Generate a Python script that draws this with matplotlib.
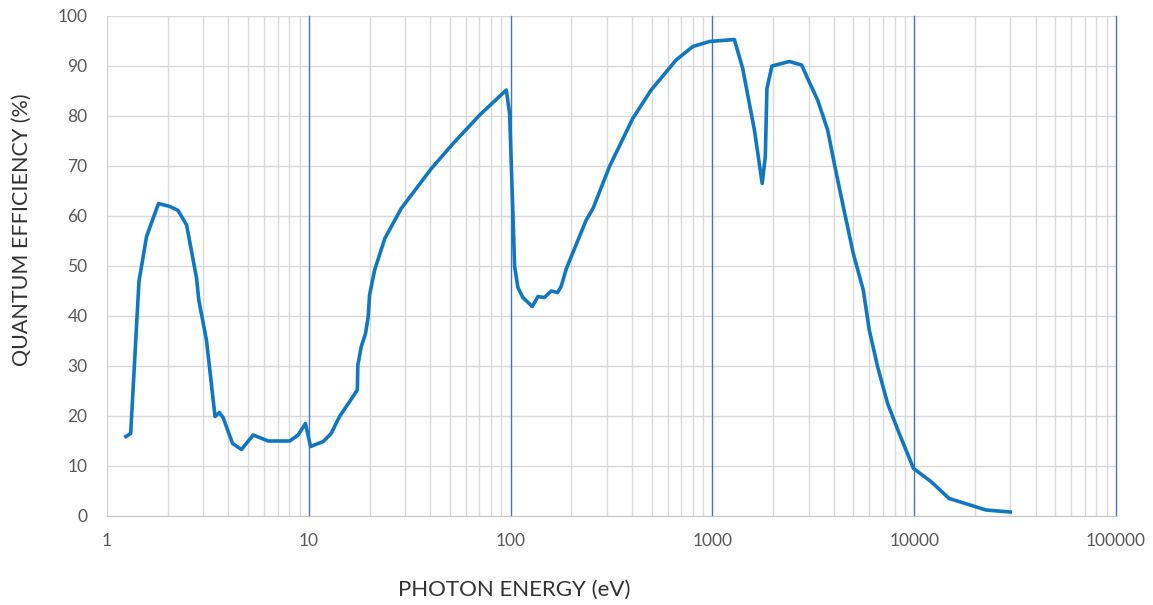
import matplotlib
matplotlib.use('Agg')
import matplotlib.pyplot as plt
from matplotlib.ticker import FixedLocator, NullFormatter, LogLocator

# photon energy (eV) and quantum efficiency (%)
energia = [1.24, 1.31, 1.44, 1.57, 1.80, 2.05, 2.25, 2.48, 2.78, 2.85, 3.11, 3.43, 3.60,
           3.76, 4.19, 4.64, 5.30, 6.29, 8.05, 8.85, 9.63, 10.2, 11.8, 12.9, 14.2, 15.7,
           17.4, 17.5, 18.2, 19.1, 19.7, 20.0, 21.2, 23.8, 28.7, 40.5, 51.9, 70.3, 95.2,
           98.9, 104.7, 108.7, 115, 128, 136.6, 147, 159, 171, 178, 189, 237, 256, 309,
           403, 497, 661, 800, 967, 1285, 1413, 1615, 1765, 1829, 1863, 1972, 2405, 2768,
           2965, 3322, 3725, 4018, 4418, 4990, 5593, 5988, 6583, 7382, 8430, 9927, 12100,
           14900, 22700, 29900]
qe = [15.9, 16.5, 46.9, 55.9, 62.5, 61.9, 61.1, 58.2, 47.5, 43.2, 35.2, 19.9, 20.7,
      19.7, 14.5, 13.3, 16.2, 15.0, 15.0, 16.2, 18.5, 13.9, 14.9, 16.5, 19.9, 22.5,
      25.2, 30.2, 33.9, 36.5, 39.9, 44.2, 49.2, 55.5, 61.5, 69.5, 74.5, 80.2, 85.2,
      80.5, 49.9, 45.7, 43.7, 41.9, 43.9, 43.7, 45.0, 44.7, 45.9, 49.5, 59.2, 61.5, 69.9,
      79.5, 85.2, 91.2, 93.9, 94.9, 95.3, 89.5, 77.2, 66.5, 71.9, 85.5, 90.0, 90.9, 90.2,
      87.5, 83.2, 77.2, 70.5, 62.5, 52.5, 45.2, 37.2, 29.9, 22.5, 16.5, 9.5, 6.9,
      3.5, 1.2, 0.8]

ticks_x = [1, 10, 100, 1000, 10000, 100000]
labels_x = ['1', '10', '100', '1000', '10000', '100000']
ticks_y = list(range(0, 101, 10))

plt.rcParams['font.family'] = ['Lato', 'DejaVu Sans']

fig = plt.figure(figsize=(11.53, 6.05), dpi=100)
ax = fig.add_axes([107 / 1153, 1 - 516 / 605, (1116 - 107) / 1153, 500 / 605])

ax.set_xscale('log')
ax.set_xlim(1, 100000)
ax.set_ylim(0, 100)

# grid: gray minor verticals and horizontals, blue major verticals
ax.xaxis.set_minor_locator(LogLocator(base=10, subs=range(2, 10), numticks=20))
ax.xaxis.set_minor_formatter(NullFormatter())
ax.grid(which='minor', axis='x', color='#d9d9d9', linewidth=1.0)
ax.grid(which='major', axis='y', color='#d9d9d9', linewidth=1.0)
for t in ticks_x[1:]:
    ax.axvline(t, color='#4a72c0', linewidth=1.0, zorder=1, clip_on=False)
ax.set_axisbelow(True)

ax.plot(energia, qe, color='#1177c0', linewidth=2.6, solid_joinstyle='round', zorder=3)

ax.xaxis.set_major_locator(FixedLocator(ticks_x))
ax.set_xticks(ticks_x)
ax.set_xticklabels(labels_x)
ax.set_yticks(ticks_y)
ax.tick_params(axis='both', which='both', length=0, labelsize=12.5, colors='#595959')
ax.tick_params(axis='x', pad=12)
ax.tick_params(axis='y', pad=14)

for s in ['top', 'right']:
    ax.spines[s].set_visible(False)
ax.spines['left'].set_color('#d0d0d0')
ax.spines['bottom'].set_color('#c8c8c8')

fig.text(22 / 1153, 1 - 230 / 605, 'QUANTUM EFFICIENCY (%)', rotation=90,
         ha='center', va='center', fontsize=15.5, color='#333333')
fig.text(514 / 1153, 1 - 590 / 605, 'PHOTON ENERGY (eV)',
         ha='center', va='center', fontsize=16, color='#333333')

fig.savefig('out.png', dpi=100)
plt.close(fig)
